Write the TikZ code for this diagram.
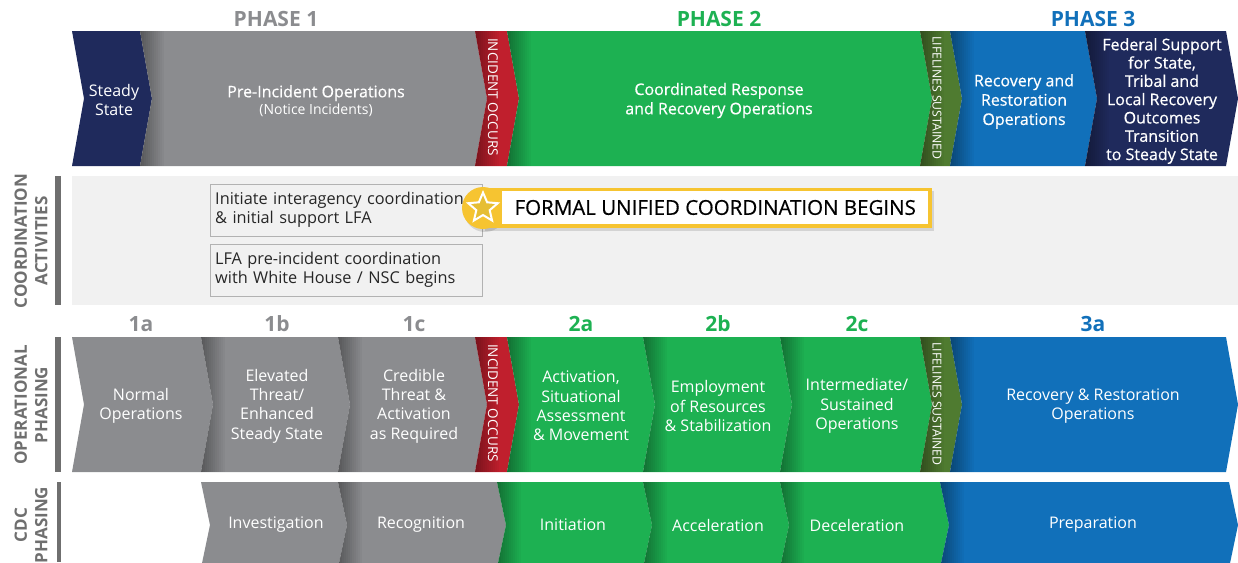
\documentclass[tikz,border=0pt]{standalone}
\usepackage{fontspec}
\setmainfont{Open Sans}
\newfontfamily\semib{Open Sans}[FakeBold=0.5]
\usepackage{tikz}
\usetikzlibrary{shapes.geometric,positioning,calc}

\definecolor{navyc}{HTML}{1F2A5C}
\definecolor{grayc}{HTML}{8B8C8F}
\definecolor{redc}{HTML}{C01F2D}
\definecolor{greenc}{HTML}{1DB152}
\definecolor{olivec}{HTML}{4F7B30}
\definecolor{bluec}{HTML}{1170BA}
\definecolor{bandbg}{HTML}{F1F1F1}
\definecolor{labgray}{HTML}{6F6F6F}
\definecolor{yellowc}{HTML}{F6C431}
\definecolor{starc}{HTML}{E6BE34}

\begin{document}
\begin{tikzpicture}[x=1pt,y=-1pt,
    seg/.style={fill=#1, path picture={
        \foreach \i in {0,...,11}
          \fill[black, opacity={0.03*(12-\i)}]
            ([xshift=2*\i pt]path picture bounding box.south west)
            rectangle ([xshift=2*\i pt+2pt]path picture bounding box.north west);}},
    txt/.style={text=white, align=center, font=\fontsize{16}{19.3}\selectfont},
    bigtxt/.style={text=white, align=center, font=\fontsize{16}{19.3}\selectfont\semib},
    vtxt/.style={text=white, rotate=-90, font=\fontsize{13.5}{14}\selectfont},
    phase/.style={font=\fontsize{21}{24}\selectfont\bfseries},
    side/.style={text=labgray, align=center, rotate=90, font=\fontsize{17}{20.5}\selectfont\bfseries},
    actbox/.style={draw=black!30, fill=bandbg, text=black!85, align=left, anchor=north west,
        text width=262pt, minimum height=52pt, inner xsep=5pt, font=\fontsize{16.3}{19}\selectfont}]
    \clip (0,0) rectangle (1238,562);

    % Phases
    \node[phase, text=grayc] (phaseone) at (276,19) {PHASE 1};
    \node[phase, text=greenc] (phasetwo) at (719,19) {PHASE 2};
    \node[phase, text=bluec] (phasethree) at (1093,19) {PHASE 3};

    % Top band
    \fill[navyc] (72,31) -- (140,31) -- (152,98.5) -- (140,166) -- (72,166) -- (84,98.5) -- cycle;
    \fill[seg=grayc] (140,31) -- (475,31) -- (487,98.5) -- (475,166) -- (140,166) -- (152,98.5) -- cycle;
    \fill[seg=redc] (475,31) -- (507,31) -- (519,98.5) -- (507,166) -- (475,166) -- (487,98.5) -- cycle;
    \fill[seg=greenc] (507,31) -- (920,31) -- (932,98.5) -- (920,166) -- (507,166) -- (519,98.5) -- cycle;
    \fill[seg=olivec] (920,31) -- (950,31) -- (962,98.5) -- (950,166) -- (920,166) -- (932,98.5) -- cycle;
    \fill[seg=bluec] (950,31) -- (1085,31) -- (1097,98.5) -- (1085,166) -- (950,166) -- (962,98.5) -- cycle;
    \fill[seg=navyc] (1085,31) -- (1226,31) -- (1238,98.5) -- (1226,166) -- (1085,166) -- (1097,98.5) -- cycle;

    \node[txt] (steady) at (114,100) {Steady\\State};
    \node[bigtxt] (preinc) at (316,101) {Pre-Incident Operations\\[-2pt]{\fontsize{14}{16}\selectfont\normalfont (Notice Incidents)}};
    \node[vtxt] (occursA) at (493,97) {INCIDENT OCCURS};
    \node[bigtxt] (coordresp) at (719,100.5) {Coordinated Response\\and Recovery Operations};
    \node[vtxt, font=\fontsize{12.3}{13}\selectfont] (lifelinesA) at (937,98) {LIFELINES SUSTAINED};
    \node[bigtxt] (recovery) at (1024,101.5) {Recovery and\\Restoration\\Operations};
    \node[bigtxt, font=\fontsize{16}{18.3}\selectfont\semib] (federal) at (1162,101) {Federal Support\\for State,\\Tribal and\\Local Recovery\\Outcomes\\Transition\\to Steady State};

    % Coordination activities
    \fill[bandbg] (72,176) rectangle (1238,305);
    \fill[labgray] (55,176) rectangle (61,305);
    \node[side] (coordlab) at (31,241) {COORDINATION\\ACTIVITIES};
    \node[actbox] (interagency) at (210,184) {Initiate interagency coordination\\\& initial support LFA};
    \node[actbox] (whitehouse) at (210,244) {LFA pre-incident coordination\\with White House / NSC begins};
    \fill[black, opacity=0.12] (485,211) circle (21);
    \fill[black, opacity=0.12] (485,191) rectangle (934,231);
    \fill[yellowc] (483,208) circle (21);
    \fill[yellowc] (483,188) rectangle (932,228);
    \node[fill=white, minimum width=426pt, minimum height=33pt, anchor=west, text=black,
        font=\fontsize{20.5}{24}\selectfont\semib] (formal) at (502,207.5) {FORMAL UNIFIED COORDINATION BEGINS};
    \node[star, star points=5, star point ratio=2.2, fill=starc, draw=white, line width=2pt,
        minimum size=31pt, inner sep=0pt] (startag) at (483,208) {};

    % Operational phasing
    \node[phase, text=grayc] (ph1a) at (141,324) {1a};
    \node[phase, text=grayc] (ph1b) at (277,324) {1b};
    \node[phase, text=grayc] (ph1c) at (414,324) {1c};
    \node[phase, text=greenc] (ph2a) at (581,324) {2a};
    \node[phase, text=greenc] (ph2b) at (718,324) {2b};
    \node[phase, text=greenc] (ph2c) at (857,324) {2c};
    \node[phase, text=bluec] (ph3a) at (1093,324) {3a};

    \fill[labgray] (55,337) rectangle (61,472);
    \node[side] (oplab) at (31,405) {OPERATIONAL\\PHASING};
    \fill[grayc] (72,337) -- (201,337) -- (213,404.5) -- (201,472) -- (72,472) -- (84,404.5) -- cycle;
    \fill[seg=grayc] (201,337) -- (338,337) -- (350,404.5) -- (338,472) -- (201,472) -- (213,404.5) -- cycle;
    \fill[seg=grayc] (338,337) -- (475,337) -- (487,404.5) -- (475,472) -- (338,472) -- (350,404.5) -- cycle;
    \fill[seg=redc] (475,337) -- (507,337) -- (519,404.5) -- (507,472) -- (475,472) -- (487,404.5) -- cycle;
    \fill[seg=greenc] (507,337) -- (643,337) -- (655,404.5) -- (643,472) -- (507,472) -- (519,404.5) -- cycle;
    \fill[seg=greenc] (643,337) -- (780,337) -- (792,404.5) -- (780,472) -- (643,472) -- (655,404.5) -- cycle;
    \fill[seg=greenc] (780,337) -- (920,337) -- (932,404.5) -- (920,472) -- (780,472) -- (792,404.5) -- cycle;
    \fill[seg=olivec] (920,337) -- (950,337) -- (962,404.5) -- (950,472) -- (920,472) -- (932,404.5) -- cycle;
    \fill[seg=bluec] (950,337) -- (1226,337) -- (1238,404.5) -- (1226,472) -- (950,472) -- (962,404.5) -- cycle;

    \node[txt] (normal) at (141,406) {Normal\\Operations};
    \node[txt] (elevated) at (277,406) {Elevated\\Threat/\\Enhanced\\Steady State};
    \node[txt] (credible) at (414,406) {Credible\\Threat \&\\Activation\\as Required};
    \node[vtxt] (occursB) at (493,403) {INCIDENT OCCURS};
    \node[txt] (activation) at (581,406) {Activation,\\Situational\\Assessment\\\& Movement};
    \node[txt] (employment) at (718,406) {Employment\\of Resources\\\& Stabilization};
    \node[txt] (intermediate) at (857,406) {Intermediate/\\Sustained\\Operations};
    \node[vtxt, font=\fontsize{12.3}{13}\selectfont] (lifelinesB) at (937,404) {LIFELINES SUSTAINED};
    \node[txt] (restoration) at (1093,406) {Recovery \& Restoration\\Operations};

    % CDC phasing
    \fill[labgray] (57,482) rectangle (61,562);
    \node[side] (cdclab) at (31,525) {CDC\\PHASING};
    \fill[grayc] (201,482) -- (338,482) -- (347,525) -- (338,568) -- (201,568) -- (210,525) -- cycle;
    \fill[seg=grayc] (338,482) -- (497,482) -- (506,525) -- (497,568) -- (338,568) -- (347,525) -- cycle;
    \fill[seg=greenc] (497,482) -- (643,482) -- (652,525) -- (643,568) -- (497,568) -- (506,525) -- cycle;
    \fill[seg=greenc] (643,482) -- (780,482) -- (789,525) -- (780,568) -- (643,568) -- (652,525) -- cycle;
    \fill[seg=greenc] (780,482) -- (940,482) -- (949,525) -- (940,568) -- (780,568) -- (789,525) -- cycle;
    \fill[seg=bluec] (940,482) -- (1229,482) -- (1238,525) -- (1229,568) -- (940,568) -- (949,525) -- cycle;

    \node[txt] (investigation) at (276,525) {Investigation};
    \node[txt] (recognition) at (421,525) {Recognition};
    \node[txt] (initiation) at (573,525) {Initiation};
    \node[txt] (acceleration) at (718,525) {Acceleration};
    \node[txt] (deceleration) at (857,525) {Deceleration};
    \node[txt] (preparation) at (1093,525) {Preparation};
\end{tikzpicture}
\end{document}
